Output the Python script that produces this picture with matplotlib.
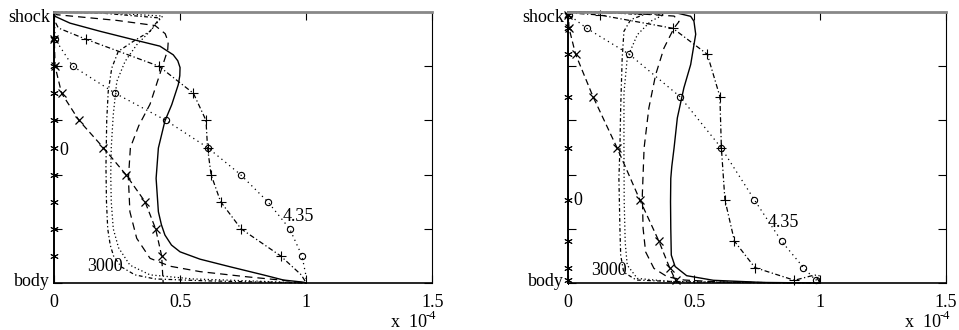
import matplotlib
matplotlib.use("Agg")
import matplotlib.pyplot as plt
from matplotlib.transforms import ScaledTranslation

plt.rcParams['font.family'] = ['Liberation Serif', 'DejaVu Serif']
plt.rcParams['font.size'] = 13

# ---------------- data ----------------
# marker grid (computational coordinate) for left panel, and physical coordinate for right panel
eta_markers_left = [0.9, 0.8, 0.7, 0.6, 0.5, 0.4, 0.3, 0.2, 0.1]
y_markers_right = [0.989, 0.94, 0.844, 0.688, 0.498, 0.307, 0.154, 0.057, 0.01]

star_x = [0, 0, 0, 0, 0, 0, 0, 0, 0]
cross_x = [0.0, 0.003, 0.029, 0.098, 0.194, 0.284, 0.36, 0.402, 0.426]
circle_x = [0.003, 0.073, 0.242, 0.443, 0.608, 0.739, 0.847, 0.934, 0.983]
plus_x = [0.124, 0.415, 0.552, 0.602, 0.608, 0.622, 0.66, 0.741, 0.898]

# end pieces of marker curves (shock side head, body side tail)
cross_tail_x, cross_tail_y = [0.432], [0.0]
circle_tail_x, circle_tail_y = [0.998, 1.0], [0.03, 0.0]
plus_head_left_x, plus_head_left_y = [0.0, 0.0, 0.016], [1.0, 0.97, 0.941]
plus_head_right_x, plus_head_right_y = [0.0], [0.997]
plus_tail_x, plus_tail_y = [0.98, 1.0], [0.03, 0.0]

# left panel, unmarked curves
L_solid_x = [0, 0.003, 0.062, 0.181, 0.314, 0.419, 0.472, 0.49, 0.499, 0.498, 0.492, 0.466,
             0.439, 0.413, 0.404, 0.413, 0.425, 0.439, 0.465, 0.499, 0.578, 0.697, 0.829,
             0.909, 0.988, 1.0]
L_solid_y = [1.0, 0.984, 0.959, 0.929, 0.898, 0.874, 0.842, 0.82, 0.795, 0.765, 0.732, 0.658,
             0.598, 0.498, 0.386, 0.263, 0.215, 0.177, 0.14, 0.115, 0.088, 0.06, 0.03, 0.011,
             0.003, 0.0]
L_ldash_x = [0, 0.01, 0.248, 0.40, 0.44, 0.452, 0.45, 0.415, 0.38, 0.335, 0.302, 0.294, 0.300,
             0.327, 0.38, 0.459, 0.578, 0.763, 0.896, 1.0]
L_ldash_y = [1.0, 0.99, 0.969, 0.95, 0.92, 0.89, 0.86, 0.76, 0.66, 0.58, 0.5, 0.386, 0.263,
             0.165, 0.091, 0.062, 0.042, 0.023, 0.011, 0.0]
L_dashdot_x = [0, 0.2, 0.419, 0.38, 0.314, 0.254, 0.228, 0.214, 0.208, 0.205, 0.207, 0.212,
               0.222, 0.235, 0.265, 0.32, 0.4, 0.6, 0.85, 1.0]
L_dashdot_y = [1.0, 0.995, 0.978, 0.929, 0.892, 0.855, 0.793, 0.707, 0.6, 0.43, 0.3, 0.2,
               0.14, 0.1, 0.06, 0.03, 0.015, 0.008, 0.003, 0.0]
L_dot_x = [0, 0.2, 0.43, 0.38, 0.327, 0.281, 0.248, 0.234, 0.226, 0.224, 0.226, 0.234, 0.255,
           0.3, 0.38, 0.55, 0.8, 1.0]
L_dot_y = [1.0, 0.997, 0.985, 0.929, 0.879, 0.818, 0.744, 0.621, 0.5, 0.4, 0.3, 0.2, 0.13,
           0.066, 0.03, 0.015, 0.007, 0.0]

# right panel, unmarked curves
R_solid_x = [0, 0.2, 0.433, 0.486, 0.499, 0.506, 0.486, 0.459, 0.433, 0.42, 0.411, 0.407,
             0.406, 0.407, 0.409, 0.424, 0.47, 0.576, 0.775, 1.0]
R_solid_y = [1.0, 0.998, 0.996, 0.984, 0.966, 0.918, 0.806, 0.72, 0.609, 0.498, 0.43, 0.386,
             0.3, 0.202, 0.103, 0.061, 0.027, 0.01, 0.002, 0.0]
R_ldash_x = [0, 0.25, 0.42, 0.44, 0.42, 0.38, 0.347, 0.32, 0.301, 0.294, 0.297, 0.307, 0.34,
             0.393, 0.46, 0.6, 0.9]
R_ldash_y = [1.0, 0.995, 0.985, 0.965, 0.941, 0.867, 0.769, 0.646, 0.498, 0.325, 0.202, 0.115,
             0.054, 0.023, 0.011, 0.004, 0.0]
R_dashdot_x = [0, 0.15, 0.3, 0.248, 0.221, 0.214, 0.208, 0.205, 0.201, 0.205, 0.208, 0.22,
               0.27, 0.45, 0.8, 1.0]
R_dashdot_y = [1.0, 0.998, 0.99, 0.972, 0.929, 0.83, 0.646, 0.498, 0.386, 0.202, 0.103, 0.04,
               0.011, 0.004, 0.001, 0.0]
R_dot_x = [0, 0.2, 0.38, 0.327, 0.274, 0.234, 0.221, 0.221, 0.222, 0.226, 0.234, 0.274, 0.4,
           0.7, 1.0]
R_dot_y = [1.0, 0.998, 0.99, 0.966, 0.916, 0.83, 0.7, 0.498, 0.3, 0.15, 0.066, 0.017, 0.006,
           0.002, 0.0]

x_ticks = [0, 0.5, 1.0, 1.5]
x_ticklabels = ['0', '0.5', '1', '1.5']
y_ticks = [0, 0.2, 0.4, 0.6, 0.8, 1.0]
y_ticklabels = ['body', '', '', '', '', 'shock']

# label positions (data coords) per panel: (x, y)
labels_left = {'0': (0.02, 0.49), '4.35': (0.905, 0.245), '3000': (0.13, 0.06)}
labels_right = {'0': (0.02, 0.303), '4.35': (0.79, 0.222), '3000': (0.09, 0.045)}

# ---------------- figure ----------------
fig = plt.figure(figsize=(9.59, 3.30), dpi=100)
axL = fig.add_axes([54.3 / 959, 1 - 283 / 330, (432.3 - 54.3) / 959, 271 / 330])
axR = fig.add_axes([568.3 / 959, 1 - 283 / 330, (946 - 568.3) / 959, 271 / 330])

lw = 0.9
k = 'black'


def draw(ax, ym, plus_hx, plus_hy, solid, ldash, dashdot, dot, labels):
    # unmarked curves
    ax.plot(solid[0], solid[1], color=k, lw=1.0, clip_on=False)
    ax.plot(ldash[0], ldash[1], color=k, lw=lw, dashes=(6, 4), clip_on=False)
    ax.plot(dashdot[0], dashdot[1], color=k, lw=lw, dashes=(3, 2, 1, 2), clip_on=False)
    ax.plot(dot[0], dot[1], color=k, lw=lw, dashes=(1, 2), clip_on=False)
    # marker curves: lines
    ax.plot([0] + cross_x + cross_tail_x, [1.0] + ym + cross_tail_y, color=k, lw=lw,
            dashes=(5, 3), clip_on=False)
    ax.plot([0] + circle_x + circle_tail_x, [1.0] + ym + circle_tail_y, color=k, lw=lw,
            dashes=(1, 3), clip_on=False)
    ax.plot(plus_hx + plus_x + plus_tail_x, plus_hy + ym + plus_tail_y, color=k, lw=lw,
            dashes=(4, 2, 1, 2), clip_on=False)
    ax.plot([0, 0], [0, 1], color=k, lw=1.2, clip_on=False)
    # markers
    ax.plot(star_x, ym, ls='none', marker=(6, 2, 0), ms=6, mec=k, mew=0.7, clip_on=False)
    ax.plot(cross_x, ym, ls='none', marker='x', ms=5.5, mec=k, mew=0.9, clip_on=False)
    ax.plot(circle_x, ym, ls='none', marker='o', ms=4.5, mfc='none', mec=k, mew=0.8,
            clip_on=False)
    ax.plot(plus_x, ym, ls='none', marker='+', ms=7, mec=k, mew=0.8, clip_on=False)
    for t, (x, y) in labels.items():
        ax.text(x, y, t, ha='left', va='center', fontsize=13)

    ax.set_xlim(0, 1.5)
    ax.set_ylim(0, 1)
    ax.set_xticks(x_ticks)
    ax.set_xticklabels(x_ticklabels)
    ax.set_yticks(y_ticks)
    ax.set_yticklabels(y_ticklabels)
    ax.tick_params(direction='in', length=6, width=0.8, top=True, right=True,
                   labelsize=13, color=k)
    ax.tick_params(axis='x', pad=8)
    ax.tick_params(axis='y', pad=3)
    ylabs = ax.get_yticklabels()
    ylabs[0].set_transform(ylabs[0].get_transform() +
                           ScaledTranslation(0, 3 / 100, fig.dpi_scale_trans))
    ylabs[-1].set_transform(ylabs[-1].get_transform() +
                            ScaledTranslation(0, -3 / 100, fig.dpi_scale_trans))
    for s in ['left', 'bottom']:
        ax.spines[s].set_linewidth(1.2)
    ax.spines['right'].set_linewidth(0.8)
    ax.spines['top'].set_linewidth(2.0)
    ax.spines['top'].set_color('#888888')
    ax.set_facecolor('white')


draw(axL, eta_markers_left, plus_head_left_x, plus_head_left_y,
     (L_solid_x, L_solid_y), (L_ldash_x, L_ldash_y), (L_dashdot_x, L_dashdot_y),
     (L_dot_x, L_dot_y), labels_left)
draw(axR, y_markers_right, plus_head_right_x, plus_head_right_y,
     (R_solid_x, R_solid_y), (R_ldash_x, R_ldash_y), (R_dashdot_x, R_dashdot_y),
     (R_dot_x, R_dot_y), labels_right)

# "x 10^-4" multiplier labels
for px in (391, 905):
    fig.text(px / 959, 1 - 327 / 330, 'x  10', ha='left', va='baseline', fontsize=13)
    fig.text((px + 35) / 959, 1 - 319 / 330, '-4', ha='left', va='baseline', fontsize=9)

fig.savefig('out.png', dpi=100, facecolor='white')
